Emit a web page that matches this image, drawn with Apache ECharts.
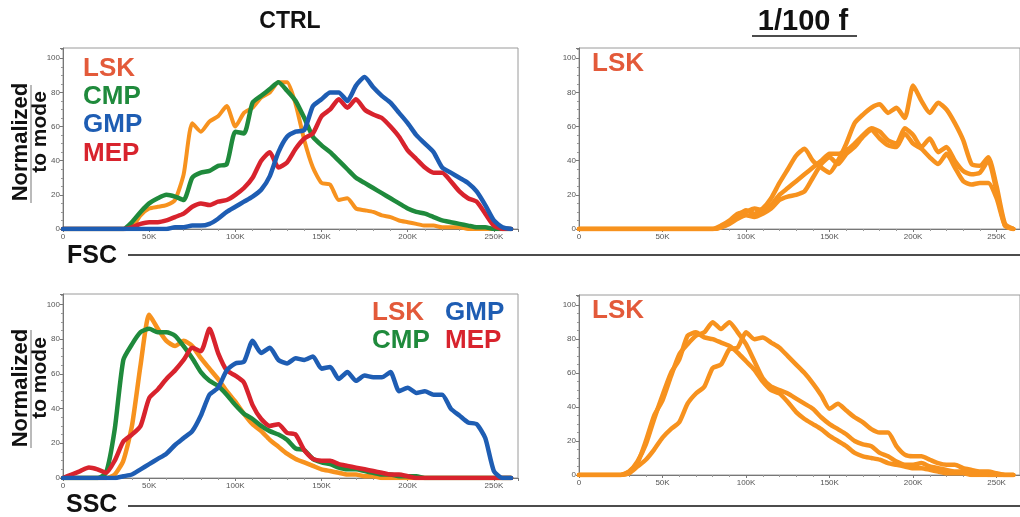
<!DOCTYPE html>
<html>
<head>
<meta charset="utf-8">
<script src="https://cdn.jsdelivr.net/npm/echarts@6/dist/echarts.min.js"></script>
<style>html,body{margin:0;padding:0;background:#fff}#c{width:1020px;height:517px}</style>
</head>
<body>
<div id="c"></div>
<script>
// x positions in thousands (K)
const xK = [0,5,10,15,20,25,30,35,40,45,50,55,60,65,70,75,80,85,90,95,100,105,110,115,120,125,130,135,140,145,150,155,160,165,170,175,180,185,190,195,200,205,210,215,220,225,230,235,240,245,250,255,260];
const xTickLabels = ['0','50K','100K','150K','200K','250K'];
const yTickLabels = ['0','20','40','60','80','100'];

// CTRL, FSC
const fscLSK = [0,0,0,0,0,0,0,0, 1,8,12,13,14,17,32,62,57,63, 66,72,60,68,71,77,80,86,86,73, 52,36,27,26,17,18,12,11,10,8, 7,5,4,3,2,2,1,1,1,0, 0,0,0,0,0];
const fscCMP = [0,0,0,0,0,0,0,0, 4,10,15,18,20,19,17,30,33,34, 37,38,57,56,74,78,82,86,81,75, 65,54,49,45,40,35,30,27,24,21, 18,15,12,10,9,7,5,4,3,2, 1,1,0,0,0];
const fscGMP = [0,0,0,0,0,0,0,0,0,0,0,0,0, 1,1,2,2,3,6,10,13,16,19, 23,31,45,54,57,58,72,76,80,80, 75,84,89,83,78,74,68,62,55,50, 45,36,33,30,27,22,14,5,1,0];
const fscMEP = [0,0,0,0,0,0,0,0, 1,3,4,4,5,7,9,13,15,14, 16,17,20,24,30,40,45,36,39,47, 53,56,66,70,76,71,76,70,67,65, 60,54,46,41,36,33,33,28,22,18, 16,9,2,0,0];

// CTRL, SSC
const sscLSK = [0,0,0,0,0,0,2,10,30,65, 94,86,79,76,79,76,69,63,57,50, 44,37,31,27,22,18,14,11,9,7, 5,4,3,2,2,1,1,0,0,0, 0,0,0,0,0,0,0,0,0,0, 0,0,0];
const sscCMP = [0,0,0,0,0,3,28,68,77,84, 86,84,84,82,76,69,61,56,53,48, 42,37,34,30,27,25,22,17,16,11, 9,8,6,5,5,4,3,2,2,1, 1,1,0,0,0,0,0,0,0,0, 0,0,0];
const sscMEP = [0,2,4,6,5,3,10,21,25,30, 46,51,57,62,68,75,73,86,72,62, 59,55,42,34,30,31,26,25,16,11, 10,10,8,7,6,5,4,3,2,2, 1,0,0,0,0,0,0,0,0,0, 0,0,0];
const sscGMP = [0,0,0,0,0,0,0,1,2,5, 8,11,14,19,23,27,36,48,52,62, 66,67,79,72,75,68,66,69,68,70, 63,64,57,61,56,59,58,58,61,50, 52,49,50,48,48,40,36,32,31,23, 4,0,0];

// 1/100 f, FSC (three LSK samples)
const fscF1 = [0,0,0,0,0,0,0,0,0,0,0,0,0,0,0,0, 0,1,4,8,11,9,12,18,27,35,43,47,40,36,33,40,50,62,67,71,73,68,71,65,84,75,68,74,70,62,52,38,37,42,25,3,0];
const fscF2 = [0,0,0,0,0,0,0,0,0,0,0,0,0,0,0,0, 0,2,5,9,10,12,11,14,20,24,28,32,36,40,44,44,46,50,55,59,57,52,50,59,55,48,53,45,48,40,34,32,33,40,22,2,0];
const fscF3 = [0,0,0,0,0,0,0,0,0,0,0,0,0,0,0,0, 0,1,3,6,8,7,9,12,17,19,20,22,30,38,42,38,44,48,54,58,53,49,48,56,50,47,42,38,44,36,28,26,27,27,18,2,0];

// 1/100 f, SSC (three LSK samples)
const sscF1 = [0,0,0,0,0, 0,2,8,18,33,47,60,68,82,84,81,80,78,76,72,67,62,55,50,48,43,37,33,30,27,23,20,17,13,11,10,9,7,6,5,4,4,3,2,1,1,1, 0,0,0,0,0,0];
const sscF2 = [0,0,0,0,0, 0,2,7,20,35,44,58,71,77,82,84,90,86,90,84,77,67,57,52,50,48,45,42,39,34,30,27,24,20,18,17,13,11,8,6,6,7,5,4,3,2,2,1,1, 0,0,0,0];
const sscF3 = [0,0,0,0,0, 0,1,5,9,15,22,27,31,42,48,52,63,65,74,75,84,80,81,78,75,70,65,60,54,47,39,42,38,34,31,27,25,25,17,12,11,11,9,7,6,6,4,3,2,2,1,0,0];

const C = {lsk:'#f7921e', cmp:'#1f8a3c', gmp:'#1e5db3', mep:'#d8232d', lskText:'#e35a3a'};
const pts = arr => xK.map((x,i)=>[x, arr[i]]);

const grids = [
  {left:63, top:48, width:455, height:181},
  {left:579, top:48, width:455, height:181},
  {left:63, top:294, width:455, height:184},
  {left:579, top:295, width:455, height:180}
].map(g => Object.assign({show:true, borderColor:'#9a9a9a', borderWidth:1, backgroundColor:'#fff'}, g));

const xAxes = grids.map((g,i)=>({
  type:'value', gridIndex:i, min:0, max:264, interval:50,
  axisLine:{show:true, lineStyle:{color:'#777', width:1}},
  axisTick:{show:true, length:3, lineStyle:{color:'#777'}},
  minorTick:{show:true, splitNumber:5, length:2, lineStyle:{color:'#999'}},
  splitLine:{show:false},
  axisLabel:{fontSize:8, color:'#555', margin:4, showMaxLabel:false, fontFamily:'Liberation Sans',
    formatter:v => xTickLabels[Math.round(v/50)] || ''}
}));
const yAxes = grids.map((g,i)=>({
  type:'value', gridIndex:i, min:0, max:106, interval:20,
  axisLine:{show:true, lineStyle:{color:'#777', width:1}},
  axisTick:{show:true, length:3, lineStyle:{color:'#777'}},
  minorTick:{show:true, splitNumber:4, length:2, lineStyle:{color:'#999'}},
  splitLine:{show:false},
  axisLabel:{fontSize:8, color:'#555', margin:3, showMaxLabel:false, fontFamily:'Liberation Sans',
    formatter:v => yTickLabels[Math.round(v/20)] || ''}
}));

function line(name, data, color, gi, w){
  return {name, type:'line', xAxisIndex:gi, yAxisIndex:gi, data:pts(data), showSymbol:false,
    smooth:0.2, lineStyle:{color, width:w||4.5, join:'round', cap:'round'}, itemStyle:{color}, silent:true, z:2};
}

const series = [
  line('LSK', fscLSK, C.lsk, 0, 4), line('CMP', fscCMP, C.cmp, 0), line('MEP', fscMEP, C.mep, 0), line('GMP', fscGMP, C.gmp, 0),
  line('LSK1', fscF1, C.lsk, 1), line('LSK2', fscF2, C.lsk, 1), line('LSK3', fscF3, C.lsk, 1),
  line('LSK', sscLSK, C.lsk, 2), line('CMP', sscCMP, C.cmp, 2), line('MEP', sscMEP, C.mep, 2), line('GMP', sscGMP, C.gmp, 2),
  line('LSK1', sscF1, C.lsk, 3), line('LSK2', sscF2, C.lsk, 3), line('LSK3', sscF3, C.lsk, 3)
];

const F = 'Liberation Sans, Arial, sans-serif';
function txt(x, y, text, color, size, align, rot){
  return {type:'text', x, y, rotation: rot||0, z:10,
    style:{text, fill:color, font:'bold '+size+'px '+F, textAlign:align||'left', textVerticalAlign:'middle'}};
}
function hline(x1, x2, y, w){
  return {type:'line', z:10, shape:{x1, y1:y, x2, y2:y}, style:{stroke:'#111', lineWidth:w||1.2}};
}

const graphic = [
  txt(290, 22, 'CTRL', '#111', 23, 'center'),
  txt(803, 22, '1/100 f', '#111', 29, 'center'),
  hline(752, 857, 36, 1.5),
  txt(67, 256, 'FSC', '#111', 25),
  hline(128, 1020, 255, 1.5),
  txt(66, 505, 'SSC', '#111', 25),
  hline(128, 1020, 506, 1.5),
  // y-axis titles
  txt(21, 142, 'Normalized', '#111', 22, 'center', Math.PI/2),
  txt(40, 132, 'to mode', '#111', 21, 'center', Math.PI/2),
  {type:'line', z:10, shape:{x1:31, y1:85, x2:31, y2:203}, style:{stroke:'#777', lineWidth:1}},
  txt(21, 388, 'Normalized', '#111', 22, 'center', Math.PI/2),
  txt(40, 378, 'to mode', '#111', 21, 'center', Math.PI/2),
  {type:'line', z:10, shape:{x1:31, y1:330, x2:31, y2:448}, style:{stroke:'#777', lineWidth:1}},
  // legends, CTRL FSC
  txt(83, 69, 'LSK', C.lskText, 26),
  txt(83, 97, 'CMP', C.cmp, 26),
  txt(83, 125, 'GMP', C.gmp, 26),
  txt(83, 154, 'MEP', C.mep, 26),
  // legends, CTRL SSC
  txt(372, 313, 'LSK', C.lskText, 26),
  txt(445, 313, 'GMP', C.gmp, 26),
  txt(372, 341, 'CMP', C.cmp, 26),
  txt(445, 341, 'MEP', C.mep, 26),
  // legends, 1/100 f
  txt(592, 64, 'LSK', C.lskText, 26),
  txt(592, 311, 'LSK', C.lskText, 26)
];

const chart = echarts.init(document.getElementById('c'), null, {renderer:'canvas'});
chart.setOption({
  animation:false, backgroundColor:'#fff',
  grid:grids, xAxis:xAxes, yAxis:yAxes, series, graphic
});
</script>
</body>
</html>
